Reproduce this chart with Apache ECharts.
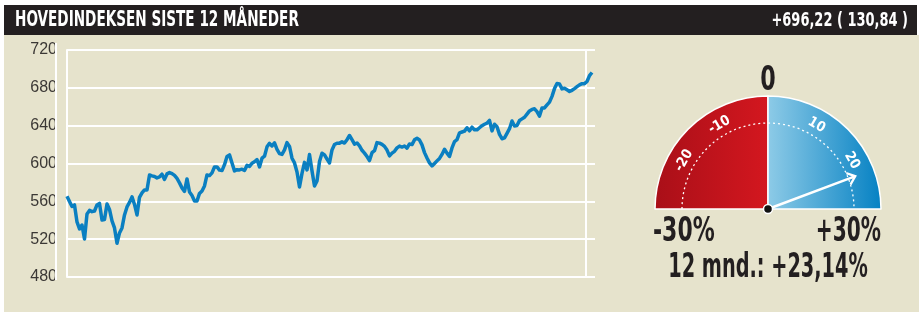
<!DOCTYPE html>
<html>
<head>
<meta charset="utf-8">
<script src="https://cdn.jsdelivr.net/npm/echarts@6/dist/echarts.min.js"></script>
<style>
  html, body { margin: 0; padding: 0; background: #fff; }
  #chart { width: 919px; height: 312px; }
</style>
</head>
<body>
<div id="chart"></div>
<script>
// Hovedindeksen, siste 12 måneder (daglige sluttkurser)
const title = 'HOVEDINDEKSEN SISTE 12 MÅNEDER';
const yTicks = [480, 520, 560, 600, 640, 680, 720];
const closes = [
  565.38, 559.9, 554.6, 556.2, 538.2, 530.8, 535.0, 520.2, 546.7, 550.4,
  549.1, 549.8, 556.2, 557.8, 540.3, 540.8, 557.2, 551.4, 539.3, 531.9,
  515.7, 526.6, 531.9, 545.6, 554.1, 558.8, 564.7, 556.7, 545.6, 564.3,
  568.9, 572.1, 572.1, 587.9, 586.9, 586.3, 584.8, 585.8, 588.7, 583.2,
  589.0, 590.4, 589.3, 587.4, 584.2, 579.5, 574.2, 570.5, 583.7, 569.9,
  566.2, 560.4, 560.4, 568.4, 571.0, 576.3, 587.9, 587.2, 590.1, 596.4,
  596.4, 593.0, 592.5, 598.8, 607.5, 609.1, 600.6, 592.2, 593.5, 593.2,
  594.0, 592.6, 598.0, 596.9, 600.3, 601.9, 604.2, 596.4, 605.6, 607.7,
  617.6, 621.3, 618.6, 621.8, 614.9, 610.4, 609.6, 614.4, 622.1, 618.1,
  605.6, 600.6, 591.1, 575.2, 589.5, 601.2, 593.2, 609.6, 592.2, 576.3,
  581.6, 602.2, 610.9, 609.1, 604.6, 600.6, 614.4, 620.0, 621.5, 621.5,
  622.9, 621.6, 625.2, 629.6, 625.2, 620.5, 621.7, 618.6, 614.0, 611.0,
  607.4, 603.1, 611.4, 613.5, 622.1, 621.5, 620.2, 618.1, 614.2, 608.0,
  611.0, 612.9, 616.5, 618.4, 617.4, 618.5, 616.2, 620.7, 620.0, 625.0,
  626.6, 624.9, 619.7, 611.5, 605.9, 600.7, 597.4, 600.1, 602.8, 605.4,
  609.6, 615.1, 611.0, 607.4, 616.5, 623.2, 625.2, 632.4, 633.3, 634.2,
  637.8, 634.6, 638.4, 635.6, 635.6, 637.8, 640.0, 641.5, 642.6, 645.6,
  634.5, 641.5, 638.9, 630.8, 626.2, 627.1, 631.9, 636.8, 644.9, 639.7,
  640.2, 645.5, 647.2, 648.9, 652.2, 655.6, 657.2, 657.8, 654.9, 650.1,
  658.8, 658.8, 662.0, 664.9, 671.0, 679.2, 684.5, 684.1, 678.9, 679.6,
  677.9, 676.2, 677.4, 679.2, 681.2, 683.1, 684.4, 684.4, 686.7, 692.9,
  696.22
];
const gaugeRange = [-30, 30];
const gaugeLabels = [-20, -10, 10, 20];

const FONT = '"DejaVu Sans Condensed", "Liberation Sans", sans-serif';
const INK = '#231f20';

function nok(v, sign) {
  const s = Math.abs(v).toFixed(2).replace('.', ',');
  if (!sign) return s;
  return (v < 0 ? '-' : '+') + s;
}

const last = closes[closes.length - 1];
const change = last - closes[0];
const pct = change / closes[0] * 100;

// tekst med smal, fet skrift (presses sammen horisontalt)
function label(text, x, y, size, align, sx, fill) {
  return {
    type: 'text', z: 100, x: x, y: y, scaleX: sx,
    style: {
      text: text, fill: fill || INK, fontSize: size, fontWeight: 'bold', fontFamily: FONT,
      textAlign: align, textVerticalAlign: 'middle', align: align, verticalAlign: 'middle'
    }
  };
}

const chart = echarts.init(document.getElementById('chart'), null, { renderer: 'canvas' });

const option = {
  animation: false,
  backgroundColor: '#fff',
  grid: { left: 67, right: 324, top: 50, bottom: 35 },
  xAxis: {
    type: 'value',
    min: 0,
    max: 211.2,
    show: false
  },
  yAxis: {
    type: 'value',
    min: yTicks[0],
    max: yTicks[yTicks.length - 1],
    interval: 40,
    axisLine: { show: true, lineStyle: { color: '#fff', width: 2 } },
    axisTick: { show: false },
    splitLine: { lineStyle: { color: '#fff', width: 2 } },
    axisLabel: {
      margin: 10,
      color: '#3b3835',
      fontSize: 16,
      fontFamily: '"Liberation Sans", sans-serif'
    }
  },
  series: [
    {
      type: 'line',
      data: closes.map((v, i) => [i, v]),
      showSymbol: false,
      clip: false,
      lineStyle: { color: '#0a7fc1', width: 3.5, join: 'round' },
      z: 5
    },
    {
      // halvsirkelen: rød under 0, blå over 0
      type: 'pie',
      center: [768, 209],
      radius: 113,
      startAngle: 180,
      clockwise: true,
      silent: true,
      label: { show: false },
      labelLine: { show: false },
      itemStyle: { borderColor: '#fff', borderWidth: 1.5 },
      data: [
        { value: -gaugeRange[0], itemStyle: { color: new echarts.graphic.LinearGradient(0, 0, 1, 0, [
          { offset: 0, color: '#a90f18' }, { offset: 1, color: '#d4171f' }]) } },
        { value: gaugeRange[1], itemStyle: { color: new echarts.graphic.LinearGradient(0, 0, 1, 0, [
          { offset: 0, color: '#8ecbe7' }, { offset: 1, color: '#0581c3' }]) } },
        { value: gaugeRange[1] - gaugeRange[0], itemStyle: { color: 'rgba(0,0,0,0)', borderWidth: 0 } }
      ]
    },
    {
      type: 'gauge',
      center: [768, 209],
      radius: 113,
      startAngle: 180,
      endAngle: 0,
      min: gaugeRange[0],
      max: gaugeRange[1],
      splitNumber: 6,
      axisLine: { show: true, lineStyle: { width: 0, color: [[1, 'rgba(0,0,0,0)']] } },
      splitLine: { show: false, length: 0, distance: 0 },
      axisTick: { show: false },
      axisLabel: {
        distance: 16,
        color: '#fff',
        fontSize: 14,
        fontWeight: 'bold',
        fontFamily: FONT,
        rotate: 'tangential',
        formatter: v => gaugeLabels.includes(Math.round(v)) ? String(Math.round(v)) : ''
      },
      pointer: {
        icon: 'path://M5,0 L10,9 L8.6,10.2 L5.9,5.3 L5.9,100 L4.1,100 L4.1,5.3 L1.4,10.2 L0,9 Z',
        length: 95,
        width: 14,
        offsetCenter: [0, 0],
        itemStyle: { color: '#fff' }
      },
      anchor: {
        show: true,
        showAbove: true,
        size: 9,
        itemStyle: { color: '#111', borderColor: '#fff', borderWidth: 1.5 }
      },
      title: { show: false },
      detail: { show: false },
      data: [{ value: pct }],
      z: 4
    }
  ],
  graphic: [
    { type: 'rect', z: -100, shape: { x: 4, y: 35, width: 915, height: 277 }, style: { fill: '#e6e3cc' } },
    { type: 'rect', z: -100, shape: { x: 4, y: 5, width: 913, height: 30 }, style: { fill: INK } },
    { type: 'rect', z: 100, shape: { x: 55, y: 43, width: 2, height: 237 }, style: { fill: '#fff' } },
    { type: 'line', z: 1, shape: { x1: 586, y1: 50, x2: 586, y2: 277 }, style: { stroke: '#fff', lineWidth: 2 } },
    { type: 'arc', z: 3, shape: { cx: 768, cy: 209, r: 86, startAngle: Math.PI, endAngle: Math.PI * 2, clockwise: true },
      style: { stroke: '#fff', fill: null, lineWidth: 1.3, lineDash: [2, 3] } },
    label(title, 15, 21, 21, 'left', 0.72, '#fff'),
    label(nok(last, true) + ' ( ' + nok(change, false) + ' )', 908, 21, 19, 'right', 0.76, '#fff'),
    label('0', 768, 81, 33, 'center', 0.75),
    label(gaugeRange[0] + '%', 653, 232, 33, 'left', 0.74),
    label('+' + gaugeRange[1] + '%', 881, 232, 33, 'right', 0.68),
    label('12 mnd.: ' + nok(pct, true) + '%', 768, 268, 33, 'center', 0.65)
  ]
};

chart.setOption(option);
</script>
</body>
</html>
